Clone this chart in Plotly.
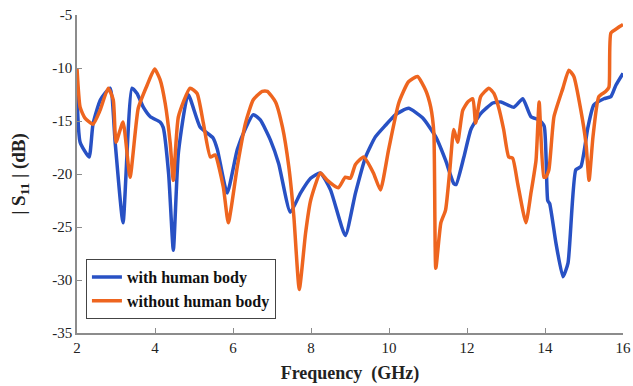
import plotly.graph_objects as go

# Frequency (GHz) and |S11| (dB) with the antenna worn on the body
freq_with = [2.0, 2.08, 2.31, 2.41, 2.6, 2.85, 2.98, 3.18, 3.41, 3.54, 3.70, 3.88, 4.13, 4.21,
             4.35, 4.47, 4.6, 4.85, 5.16, 5.49, 5.6, 5.85, 6.11, 6.32, 6.52, 6.70, 6.96, 7.17,
             7.47, 7.73, 7.99, 8.24, 8.5, 8.88, 9.14, 9.4, 9.65, 9.91, 10.17, 10.5, 10.86, 11.2,
             11.45, 11.66, 11.72, 11.92, 12.1, 12.35, 12.66, 12.87, 13.2, 13.43, 13.64, 13.85,
             13.98, 14.07, 14.12, 14.28, 14.46, 14.59, 14.79, 14.92, 15.1, 15.25, 15.51, 15.69,
             15.82, 16.0]
s11_with = [-12.4, -17.0, -18.4, -15.3, -13.0, -11.9, -17.1, -24.6, -11.9, -12.4, -13.7, -14.6,
            -15.1, -15.6, -20.0, -27.2, -18.0, -12.5, -15.6, -16.6, -17.7, -21.8, -17.7, -15.7,
            -14.4, -14.9, -16.8, -19.0, -23.6, -21.8, -20.4, -19.9, -21.5, -25.8, -21.8, -18.4,
            -16.5, -15.4, -14.4, -13.8, -14.7, -16.5, -18.7, -20.9, -21.0, -18.4, -15.8, -14.3,
            -13.3, -13.2, -13.7, -12.9, -14.6, -14.9, -15.5, -22.5, -22.8, -26.5, -29.7, -28.4,
            -19.6, -19.3, -15.6, -13.5, -12.9, -12.7, -11.6, -10.5]

# Frequency (GHz) and |S11| (dB) in free space
freq_without = [2.0, 2.08, 2.2, 2.41, 2.59, 2.8, 2.93, 3.0, 3.18, 3.36, 3.57, 3.8, 3.99, 4.13,
                4.26, 4.39, 4.47, 4.6, 4.9, 5.08, 5.24, 5.42, 5.54, 5.75, 5.88, 6.11, 6.32, 6.52,
                6.75, 6.88, 7.09, 7.27, 7.43, 7.56, 7.7, 7.86, 7.99, 8.24, 8.42, 8.7, 8.88, 9.01,
                9.14, 9.35, 9.6, 9.78, 9.99, 10.25, 10.5, 10.73, 10.94, 11.07, 11.15, 11.2, 11.33,
                11.45, 11.56, 11.66, 11.76, 11.89, 12.02, 12.15, 12.22, 12.35, 12.56, 12.69, 12.81,
                12.94, 13.07, 13.17, 13.3, 13.51, 13.64, 13.77, 13.85, 13.97, 14.02, 14.1, 14.23,
                14.46, 14.61, 14.74, 14.92, 15.05, 15.13, 15.23, 15.38, 15.56, 15.64, 15.69, 15.87,
                16.0]
s11_without = [-10.0, -13.7, -14.7, -15.3, -14.0, -11.9, -13.0, -17.0, -15.1, -20.3, -13.8, -11.6,
               -10.1, -11.1, -13.3, -17.1, -20.6, -14.6, -11.9, -12.4, -15.2, -18.4, -18.2, -21.2,
               -24.6, -19.3, -15.2, -13.0, -12.2, -12.2, -13.2, -15.6, -19.3, -24.0, -30.9, -25.6,
               -22.5, -19.9, -20.6, -21.3, -20.3, -20.4, -19.1, -18.4, -19.9, -21.5, -17.7, -13.3,
               -11.3, -10.8, -12.1, -13.7, -16.1, -28.9, -24.6, -23.4, -19.6, -15.8, -17.0, -14.0,
               -13.2, -12.9, -15.2, -12.7, -11.9, -12.4, -13.7, -15.8, -18.4, -18.5, -20.9, -24.6,
               -21.8, -18.7, -13.2, -20.3, -20.3, -19.6, -14.6, -11.9, -10.2, -10.8, -14.0, -17.1,
               -20.6, -16.5, -12.7, -12.2, -11.8, -6.7, -6.2, -5.9]

x_ticks = [2, 4, 6, 8, 10, 12, 14, 16]
y_ticks = [-35, -30, -25, -20, -15, -10, -5]

BLUE = "#2851C4"
ORANGE = "#EE651F"
SERIF = "Liberation Serif, Times New Roman, serif"

fig = go.Figure()
fig.add_trace(go.Scatter(x=freq_with, y=s11_with, mode="lines", name="<b>with human body</b>",
                         line=dict(color=BLUE, width=3.5, shape="spline", smoothing=0.5)))
fig.add_trace(go.Scatter(x=freq_without, y=s11_without, mode="lines", name="<b>without human body</b>",
                         line=dict(color=ORANGE, width=3.5, shape="spline", smoothing=0.5)))

axis_common = dict(showgrid=False, zeroline=False, showline=True, linecolor="#8c8c8c",
                   linewidth=1.5, ticks="inside", ticklen=5, tickcolor="#8c8c8c",
                   automargin=False,
                   tickfont=dict(family=SERIF, size=15, color="#222"))

fig.update_xaxes(range=[2, 16], tickvals=x_ticks, ticktext=[str(v) for v in x_ticks],
                 title=dict(text="<b>Frequency  (GHz)</b>", font=dict(family=SERIF, size=18, color="#222"),
                            standoff=12),
                 **axis_common)
fig.update_yaxes(range=[-35, -5], tickvals=y_ticks, ticktext=[str(v) for v in y_ticks],
                 title=dict(text="<b>| S<sub>11</sub> | (dB)</b>", font=dict(family=SERIF, size=19, color="#222"),
                            standoff=22),
                 **axis_common)

fig.update_layout(
    width=633, height=386,
    margin=dict(l=77, r=10, t=15, b=53),
    plot_bgcolor="white", paper_bgcolor="white",
    legend=dict(x=0.016, y=0.233, xanchor="left", yanchor="top",
                bordercolor="#444", borderwidth=1.2, bgcolor="white",
                font=dict(family=SERIF, size=16, color="#111"),
                itemwidth=30),
    showlegend=True,
)

fig.write_html("out.html")
